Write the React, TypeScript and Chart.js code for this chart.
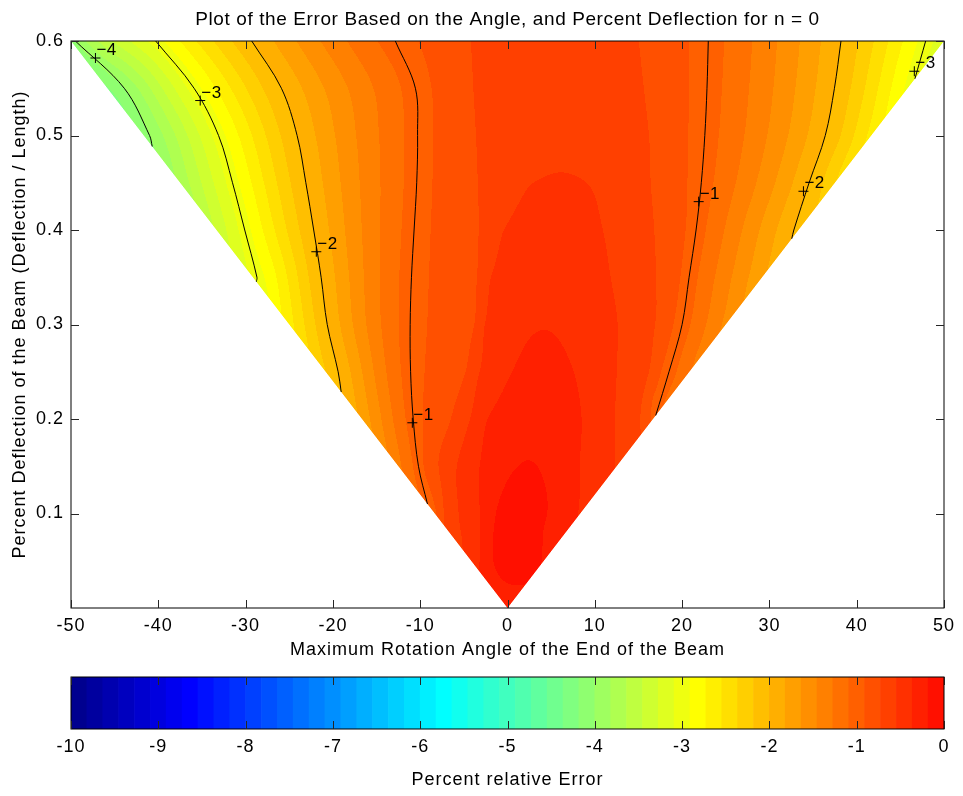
import React, { useEffect, useRef } from "react";
import { Chart, registerables } from "chart.js";

Chart.register(...registerables);

// ---------- text ----------
const FONT = "'Liberation Sans', Arial, Helvetica, sans-serif";
const TITLE = "Plot of the Error Based on the Angle, and Percent Deflection for n = 0";
const X_TITLE = "Maximum Rotation Angle of the End of the Beam";
const Y_TITLE = "Percent Deflection of the Beam (Deflection / Length)";
const CB_TITLE = "Percent relative Error";

// ---------- axes ----------
const X_RANGE = [-50, 50];
const Y_RANGE = [0, 0.6];
const X_TICKS = [-50, -40, -30, -20, -10, 0, 10, 20, 30, 40, 50];
const Y_TICKS = [0.1, 0.2, 0.3, 0.4, 0.5, 0.6];
const CB_RANGE = [-10, 0];
const CB_TICKS = [-10, -9, -8, -7, -6, -5, -4, -3, -2, -1, 0];
const CB_BANDS = 55; // colour steps visible on the colour bar (jet, 64)
const JET_SIZE = 64;
const WEDGE_TOP_HALF = 50; // half-width (deg) of the sampled wedge at the top row

// ---------- error field, sampled per deflection row ----------
const ROW_Y = [0, 0.05, 0.1, 0.15, 0.2, 0.25, 0.3, 0.35, 0.4, 0.45, 0.5, 0.55, 0.6];
// error on the left / right edge of the wedge
const EDGE_L = [-0.3, -0.45, -0.92, -1.32, -1.76, -2.18, -2.62, -3.04, -3.42, -3.77, -4.07, -4.2, -4.12];
const EDGE_R = [-0.3, -0.25, -0.37, -0.56, -0.98, -1.25, -1.5, -1.78, -2.05, -2.35, -2.6, -2.95, -3.2];
// least error in each row and where it sits
const PEAK_X = [0, 1.2, 1.6, 2.3, 3.3, 3.8, 4.3, 4.8, 5.3, 6.0, 6.5, 6.5, 6.0];
const PEAK_V = [-0.3, -0.08, -0.08, -0.17, -0.26, -0.31, -0.37, -0.42, -0.47, -0.53, -0.6, -0.63, -0.66];
// angle where each row crosses an error level (left of the peak)
const n = null;
const LEVELS = [-4, -3, -2, -1, -0.909, -0.727, -0.545, -0.364, -0.18];
const L_M4 = [n, n, n, n, n, n, n, n, n, n, -41.0, -43.9, -49.5];
const L_M3 = [n, n, n, n, n, n, n, -28.7, -30.1, -31.5, -33.1, -35.9, -40.3];
const L_M2 = [n, n, n, n, n, -19.4, -20.65, -21.35, -22.2, -23.1, -24.1, -25.9, -29.3];
const L_M1 = [n, n, n, -10.2, -10.8, -11.1, -11.15, -11.0, -10.7, -10.4, -10.3, -10.55, -12.85];
const L_M0909 = [n, n, -8.2, -9.6, -9.7, -9.5, -9.2, -9.0, -8.8, -8.6, -8.5, -8.7, -10.2];
const L_M0727 = [n, n, -7.3, -7.9, -6.5, -4.8, -3.8, -3.5, -3.3, -3.4, -3.6, -3.9, -4.2];
const L_M0545 = [n, n, -5.6, -5.8, -4.3, -3.2, -2.6, -1.9, -0.4, 3.0, n, n, n];
const L_M0364 = [n, -3.2, -3.2, -3.2, -2.3, 0.5, n, n, n, n, n, n, n];
const L_M018 = [n, -1.6, -1.3, 1.3, n, n, n, n, n, n, n, n, n];
// (right of the peak)
const R_M4 = [n, n, n, n, n, n, n, n, n, n, n, n, n];
const R_M3 = [n, n, n, n, n, n, n, n, n, n, n, n, 47.9];
const R_M2 = [n, n, n, n, n, n, n, n, 32.8, 34.55, 36.4, 37.45, 38.2];
const R_M1 = [n, n, n, n, n, 18.5, 20.0, 20.8, 21.6, 22.2, 22.6, 22.85, 23.0];
const R_M0909 = [n, n, n, n, 16.4, 17.6, 19.0, 19.8, 20.4, 20.6, 20.7, 20.8, 20.75];
const R_M0727 = [n, n, n, n, 15.2, 16.2, 16.9, 17.0, 16.8, 16.4, 16.2, 15.6, 15.0];
const R_M0545 = [n, n, n, 12.3, 12.3, 12.5, 12.6, 11.8, 10.9, 9.0, n, n, n];
const R_M0364 = [n, n, 8.1, 8.3, 8.5, 7.6, n, n, n, n, n, n, n];
const R_M018 = [n, 3.9, 4.5, 3.3, n, n, n, n, n, n, n, n, n];
const LEFT_CROSS = [L_M4, L_M3, L_M2, L_M1, L_M0909, L_M0727, L_M0545, L_M0364, L_M018];
const RIGHT_CROSS = [R_M4, R_M3, R_M2, R_M1, R_M0909, R_M0727, R_M0545, R_M0364, R_M018];

// black contour lines that are drawn and labelled
const LINE_LEVELS = [-1, -2, -3, -4];
// contour labels (clabel)
const LABEL_X = [-47.2, -35.2, -21.9, -10.9, 21.9, 33.9, 46.6];
const LABEL_Y = [0.582, 0.537, 0.377, 0.196, 0.43, 0.441, 0.568];
const LABEL_TEXT = ["\u22124", "\u22123", "\u22122", "\u22121", "\u22121", "\u22122", "\u22123"];

// ---------- helpers ----------
function jetColor(idx1: number, m: number): [number, number, number] {
  const q = Math.ceil(m / 4);
  const u: number[] = [];
  for (let k = 1; k <= q; k++) u.push(k / q);
  for (let k = 1; k < q; k++) u.push(1);
  for (let k = q; k >= 1; k--) u.push(k / q);
  const g0 = Math.ceil(q / 2) - (m % 4 === 1 ? 1 : 0);
  const at = (k: number) => (k >= 1 && k <= u.length ? u[k - 1] : 0);
  const r = at(idx1 - g0 - q);
  const g = at(idx1 - g0);
  const b = at(idx1 - g0 + q);
  return [Math.round(r * 255), Math.round(g * 255), Math.round(b * 255)];
}
const BAND_W = (CB_RANGE[1] - CB_RANGE[0]) / CB_BANDS;
const BAND_RGB = Array.from({ length: CB_BANDS }, (_, k) => jetColor(k + 1, JET_SIZE));
const bandOf = (v: number) =>
  Math.max(0, Math.min(CB_BANDS - 1, Math.floor((v - CB_RANGE[0]) / BAND_W)));
const halfWidth = (y: number) => (WEDGE_TOP_HALF * y) / Y_RANGE[1];

// monotone cubic (PCHIP) profile along the angle for one row
type Prof = { xs: number[]; vs: number[]; ds: number[]; sl: number; sr: number };
function evalProf(p: Prof, x: number): number {
  const { xs, vs, ds } = p;
  const m = xs.length;
  if (m === 1) return vs[0];
  if (x <= xs[0]) return vs[0] + (x - xs[0]) * p.sl;
  if (x >= xs[m - 1]) return vs[m - 1] + (x - xs[m - 1]) * p.sr;
  let i = 1;
  while (i < m - 1 && x > xs[i]) i++;
  const h = xs[i] - xs[i - 1];
  const t = (x - xs[i - 1]) / h;
  const t2 = t * t, t3 = t2 * t;
  return (
    (2 * t3 - 3 * t2 + 1) * vs[i - 1] +
    (t3 - 2 * t2 + t) * h * ds[i - 1] +
    (-2 * t3 + 3 * t2) * vs[i] +
    (t3 - t2) * h * ds[i]
  );
}
function buildProfile(r: number): Prof {
  const hw = halfWidth(ROW_Y[r]);
  if (hw <= 0) return { xs: [0], vs: [PEAK_V[r]], ds: [0], sl: 0, sr: 0 };
  const xs = [-hw];
  const vs = [EDGE_L[r]];
  for (let i = 0; i < LEVELS.length; i++) {
    const c = LEFT_CROSS[i][r];
    if (c != null) { xs.push(c); vs.push(LEVELS[i]); }
  }
  xs.push(PEAK_X[r]); vs.push(PEAK_V[r]);
  for (let i = LEVELS.length - 1; i >= 0; i--) {
    const c = RIGHT_CROSS[i][r];
    if (c != null) { xs.push(c); vs.push(LEVELS[i]); }
  }
  xs.push(hw); vs.push(EDGE_R[r]);
  const m = xs.length;
  const h: number[] = [], del: number[] = [];
  for (let k = 0; k < m - 1; k++) {
    h.push(Math.max(1e-6, xs[k + 1] - xs[k]));
    del.push((vs[k + 1] - vs[k]) / h[k]);
  }
  const ds = new Array(m).fill(0);
  for (let k = 1; k < m - 1; k++) {
    if (del[k - 1] * del[k] <= 0) ds[k] = 0;
    else {
      const w1 = 2 * h[k] + h[k - 1], w2 = h[k] + 2 * h[k - 1];
      ds[k] = (w1 + w2) / (w1 / del[k - 1] + w2 / del[k]);
    }
  }
  ds[0] = del[0];
  ds[m - 1] = del[m - 2];
  const p: Prof = { xs, vs, ds, sl: 0, sr: 0 };
  const span = Math.min(4, hw);
  p.sl = (evalProf(p, -hw + span) - EDGE_L[r]) / span;
  p.sr = (EDGE_R[r] - evalProf(p, hw - span)) / span;
  return p;
}
const PROFILES = ROW_Y.map((_, r) => buildProfile(r));

// value at (angle, deflection): Catmull-Rom across rows of the row profiles
function fieldAt(x: number, y: number): number {
  const N = ROW_Y.length;
  let r = 0;
  while (r < N - 2 && y > ROW_Y[r + 1]) r++;
  const t = Math.max(0, Math.min(1, (y - ROW_Y[r]) / (ROW_Y[r + 1] - ROW_Y[r])));
  const p1 = evalProf(PROFILES[r], x);
  const p2 = evalProf(PROFILES[r + 1], x);
  const p0 = r > 0 ? evalProf(PROFILES[r - 1], x) : 2 * p1 - p2;
  const p3 = r + 2 < N ? evalProf(PROFILES[r + 2], x) : 2 * p2 - p1;
  const t2 = t * t, t3 = t2 * t;
  return 0.5 * (2 * p1 + (-p0 + p2) * t + (2 * p0 - 5 * p1 + 4 * p2 - p3) * t2 + (-p0 + 3 * p1 - 3 * p2 + p3) * t3);
}

function contourPoints(level: number, side: "L" | "R") {
  const edge = side === "L" ? EDGE_L : EDGE_R;
  const cross = (side === "L" ? LEFT_CROSS : RIGHT_CROSS)[LEVELS.indexOf(level)];
  const pts: { x: number; y: number }[] = [];
  let y0 = Infinity;
  for (let r = 0; r < ROW_Y.length - 1; r++) {
    const a = edge[r], b = edge[r + 1];
    if (a > level && b <= level) {
      y0 = ROW_Y[r] + ((ROW_Y[r + 1] - ROW_Y[r]) * (a - level)) / (a - b);
      break;
    }
  }
  if (y0 === Infinity) return pts;
  pts.push({ x: (side === "L" ? -1 : 1) * halfWidth(y0), y: y0 });
  for (let r = 0; r < ROW_Y.length; r++) {
    const c = cross[r];
    if (c != null && ROW_Y[r] > y0) pts.push({ x: c, y: ROW_Y[r] });
  }
  return pts;
}

// ---------- plugins ----------
const spacingPlugin = {
  id: "spacing",
  beforeDraw(chart: any) {
    (chart.ctx as any).letterSpacing = "1px";
  },
};

const fillPlugin = {
  id: "contourFill",
  beforeDatasetsDraw(chart: any) {
    const { ctx, chartArea: a, scales } = chart;
    const xs = scales.x, ys = scales.y;
    const L = Math.floor(a.left), T = Math.floor(a.top);
    const W = Math.ceil(a.right) - L, H = Math.ceil(a.bottom) - T;
    const off = document.createElement("canvas");
    off.width = W; off.height = H;
    const o = off.getContext("2d")!;
    const img = o.createImageData(W, H);
    const d = img.data;
    const dx = Math.abs(xs.getValueForPixel(L + 1) - xs.getValueForPixel(L));
    for (let j = 0; j < H; j++) {
      const y = ys.getValueForPixel(T + j + 0.5);
      if (y < 0) continue;
      const hw = halfWidth(y);
      for (let i = 0; i < W; i++) {
        const x = xs.getValueForPixel(L + i + 0.5);
        const cov = (hw - Math.abs(x)) / dx + 0.5;
        if (cov <= 0) continue;
        const c = BAND_RGB[bandOf(fieldAt(x, y))];
        const p = (j * W + i) * 4;
        d[p] = c[0]; d[p + 1] = c[1]; d[p + 2] = c[2];
        d[p + 3] = Math.round(Math.min(1, cov) * 255);
      }
    }
    o.putImageData(img, 0, 0);
    ctx.drawImage(off, L, T);
  },
};

const framePlugin = {
  id: "frame",
  afterDatasetsDraw(chart: any) {
    const { ctx, chartArea: a, scales } = chart;
    const xs = scales.x, ys = scales.y;
    ctx.save();
    (ctx as any).letterSpacing = "0px";
    ctx.strokeStyle = "#000";
    ctx.lineWidth = 1;
    ctx.strokeRect(a.left, a.top, a.right - a.left, a.bottom - a.top);
    ctx.strokeStyle = "#262626";
    ctx.beginPath();
    for (const v of X_TICKS) {
      const px = Math.round(xs.getPixelForValue(v)) + 0.5;
      ctx.moveTo(px, a.bottom); ctx.lineTo(px, a.bottom - 8);
      ctx.moveTo(px, a.top); ctx.lineTo(px, a.top + 8);
    }
    for (const v of Y_TICKS) {
      const py = Math.round(ys.getPixelForValue(v)) + 0.5;
      ctx.moveTo(a.left, py); ctx.lineTo(a.left + 8, py);
      ctx.moveTo(a.right, py); ctx.lineTo(a.right - 8, py);
    }
    ctx.stroke();
    // contour labels
    ctx.fillStyle = "#000";
    ctx.font = `17px ${FONT}`;
    (ctx as any).letterSpacing = "0.5px";
    ctx.textAlign = "left";
    ctx.textBaseline = "alphabetic";
    for (let i = 0; i < LABEL_TEXT.length; i++) {
      const px = xs.getPixelForValue(LABEL_X[i]);
      const py = ys.getPixelForValue(LABEL_Y[i]);
      ctx.fillText(LABEL_TEXT[i], px + 1, py - 3);
    }
    ctx.restore();
  },
  afterDraw(chart: any) {
    const { ctx, chartArea: a } = chart;
    ctx.save();
    (ctx as any).letterSpacing = "0.6px";
    ctx.fillStyle = "#000";
    ctx.font = `19px ${FONT}`;
    ctx.textAlign = "center";
    ctx.textBaseline = "alphabetic";
    ctx.fillText(TITLE, (a.left + a.right) / 2, 25);
    ctx.restore();
  },
};

const cbFramePlugin = {
  id: "cbFrame",
  afterDatasetsDraw(chart: any) {
    const { ctx, chartArea: a, scales } = chart;
    const xs = scales.x;
    ctx.save();
    ctx.strokeStyle = "#000";
    ctx.lineWidth = 1;
    ctx.strokeRect(a.left, a.top, a.right - a.left, a.bottom - a.top);
    ctx.strokeStyle = "#262626";
    ctx.beginPath();
    for (const v of CB_TICKS) {
      const px = Math.round(xs.getPixelForValue(v)) + 0.5;
      ctx.moveTo(px, a.bottom); ctx.lineTo(px, a.bottom - 8);
      ctx.moveTo(px, a.top); ctx.lineTo(px, a.top + 8);
    }
    ctx.stroke();
    ctx.restore();
  },
};

const tickFont = { family: FONT, size: 18 };
const noGrid = { display: false, drawTicks: false };

export default function App() {
  const mainRef = useRef<HTMLCanvasElement>(null);
  const cbRef = useRef<HTMLCanvasElement>(null);

  useEffect(() => {
    const lineSets: any[] = [];
    for (const lv of LINE_LEVELS) {
      for (const side of ["L", "R"] as const) {
        const pts = contourPoints(lv, side);
        if (pts.length < 2) continue;
        lineSets.push({
          data: pts,
          showLine: true,
          borderColor: "#000",
          borderWidth: 1,
          pointRadius: 0,
          tension: 0.35,
          fill: false,
        });
      }
    }
    const markerSet = {
      data: LABEL_X.map((x, i) => ({ x, y: LABEL_Y[i] })),
      showLine: false,
      pointStyle: "cross",
      pointRadius: 5,
      borderColor: "#000",
      borderWidth: 1,
      backgroundColor: "#000",
    };

    const main = new Chart(mainRef.current!, {
      type: "scatter",
      data: { datasets: [...lineSets, markerSet] },
      options: {
        animation: false,
        responsive: false,
        maintainAspectRatio: false,
        devicePixelRatio: 1,
        events: [],
        layout: { padding: { top: 41, right: 19, left: 0, bottom: 0 } },
        plugins: { legend: { display: false }, tooltip: { enabled: false }, title: { display: false } },
        scales: {
          x: {
            type: "linear",
            min: X_RANGE[0],
            max: X_RANGE[1],
            grid: noGrid,
            border: { display: false },
            ticks: { color: "#000", font: tickFont, padding: 7, maxRotation: 0, autoSkip: false, callback: (v: any) => String(v) },
            afterBuildTicks: (s: any) => { s.ticks = X_TICKS.map((v) => ({ value: v })); },
            afterFit: (s: any) => { s.height = 57; },
            title: { display: true, text: X_TITLE, color: "#000", font: tickFont, padding: { top: 0, bottom: 4 } },
          },
          y: {
            type: "linear",
            min: Y_RANGE[0],
            max: Y_RANGE[1],
            grid: noGrid,
            border: { display: false },
            ticks: { color: "#000", font: tickFont, padding: 7, autoSkip: false, callback: (v: any) => Number(v).toFixed(1) },
            afterBuildTicks: (s: any) => { s.ticks = Y_TICKS.map((v) => ({ value: v })); },
            afterFit: (s: any) => { s.width = 71; },
            title: { display: true, text: Y_TITLE, color: "#000", font: tickFont, padding: { top: 9, bottom: 0 } },
          },
        },
      } as any,
      plugins: [spacingPlugin, fillPlugin, framePlugin],
    });

    const cb = new Chart(cbRef.current!, {
      type: "bar",
      data: {
        datasets: [
          {
            data: BAND_RGB.map((_, k) => ({ x: CB_RANGE[0] + (k + 0.5) * BAND_W, y: [0, 1] })),
            backgroundColor: BAND_RGB.map((c) => `rgb(${c[0]},${c[1]},${c[2]})`),
            borderWidth: 0,
            barPercentage: 1,
            categoryPercentage: 1,
          } as any,
        ],
      },
      options: {
        animation: false,
        responsive: false,
        maintainAspectRatio: false,
        devicePixelRatio: 1,
        events: [],
        layout: { padding: { top: 12, right: 19, left: 71, bottom: 0 } },
        plugins: { legend: { display: false }, tooltip: { enabled: false } },
        scales: {
          x: {
            type: "linear",
            min: CB_RANGE[0],
            max: CB_RANGE[1],
            offset: false,
            grid: noGrid,
            border: { display: false },
            ticks: { color: "#000", font: tickFont, padding: 7, maxRotation: 0, autoSkip: false, callback: (v: any) => String(v) },
            afterBuildTicks: (s: any) => { s.ticks = CB_TICKS.map((v) => ({ value: v })); },
            afterFit: (s: any) => { s.height = 67; },
            title: { display: true, text: CB_TITLE, color: "#000", font: tickFont, padding: { top: 0, bottom: 5 } },
          },
          y: { display: false, min: 0, max: 1 },
        },
      } as any,
      plugins: [spacingPlugin, cbFramePlugin],
    });

    return () => {
      main.destroy();
      cb.destroy();
    };
  }, []);

  return (
    <div style={{ position: "absolute", left: 0, top: 0, width: 963, height: 796, background: "#fff" }}>
      <canvas ref={mainRef} width={963} height={665} style={{ position: "absolute", left: 0, top: 0, width: 963, height: 665 }} />
      <canvas ref={cbRef} width={963} height={131} style={{ position: "absolute", left: 0, top: 665, width: 963, height: 131 }} />
    </div>
  );
}
